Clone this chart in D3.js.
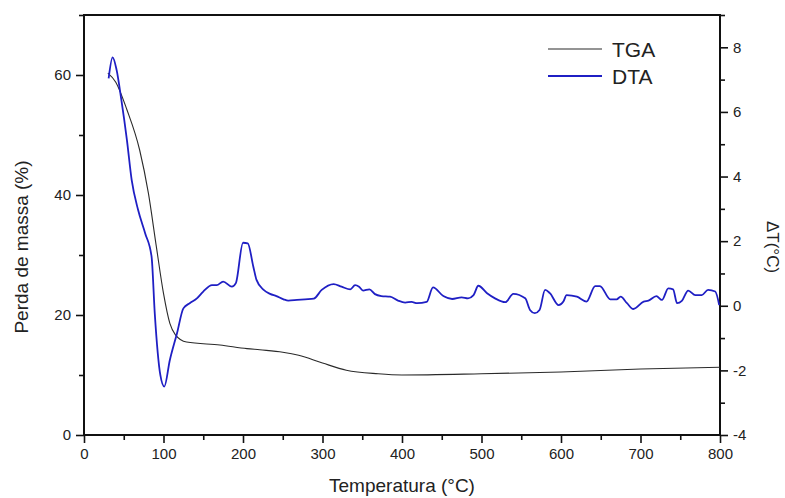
<!DOCTYPE html>
<html>
<head>
<meta charset="utf-8">
<script src="https://cdn.jsdelivr.net/npm/d3@7"></script>
<style>
  body { margin: 0; background: #fff; }
  text { font-family: "Liberation Sans", Arial, sans-serif; fill: #222; }
</style>
</head>
<body>
<div id="chart"></div>
<script>
// TGA: temperature (°C) and mass loss (%)
const tgaTemp = [30, 40, 54, 70, 81, 91, 100, 108, 115, 129, 171, 205, 221, 250, 270, 300, 330, 370, 400, 500, 600, 700, 800];
const tgaMass = [60.3, 58.8, 54.2, 47.5, 40.3, 31.4, 23.6, 18.6, 16.7, 15.5, 15.0, 14.4, 14.2, 13.8, 13.3, 12.0, 10.8, 10.2, 10.0, 10.2, 10.5, 11.0, 11.3];

// DTA: temperature (°C) and ΔT (°C)
const dtaTemp = [31, 36, 41, 47, 54, 60, 68, 77, 85, 89, 96, 101, 108, 117, 125, 133, 142, 150, 161, 167, 175, 186, 191, 200, 206, 213, 217, 226, 234, 242, 251, 257, 268, 278, 289, 299, 314, 324, 335, 341, 346, 351, 359, 366, 374, 385, 395, 404, 412, 419, 431, 439, 452, 463, 475, 483, 490, 496, 507, 517, 530, 540, 555, 561, 567, 573, 580, 586, 597, 603, 607, 620, 632, 643, 649, 662, 670, 675, 683, 691, 704, 710, 720, 727, 735, 741, 746, 752, 760, 769, 777, 785, 794, 799];
const dtaDelta = [7.04, 7.69, 7.30, 6.37, 5.13, 3.89, 2.97, 2.24, 1.52, -0.23, -2.14, -2.50, -1.68, -0.85, -0.08, 0.08, 0.23, 0.44, 0.64, 0.64, 0.75, 0.59, 0.70, 1.95, 1.93, 1.21, 0.80, 0.49, 0.37, 0.30, 0.20, 0.16, 0.18, 0.20, 0.22, 0.49, 0.67, 0.59, 0.51, 0.64, 0.59, 0.47, 0.51, 0.36, 0.30, 0.28, 0.16, 0.10, 0.12, 0.08, 0.12, 0.57, 0.30, 0.21, 0.26, 0.23, 0.33, 0.62, 0.39, 0.23, 0.11, 0.37, 0.23, -0.13, -0.23, -0.13, 0.49, 0.39, 0.02, 0.13, 0.33, 0.28, 0.13, 0.61, 0.61, 0.20, 0.20, 0.28, 0.08, -0.10, 0.13, 0.16, 0.30, 0.18, 0.54, 0.51, 0.08, 0.15, 0.47, 0.33, 0.33, 0.49, 0.44, 0.02];

const seriesNames = ["TGA", "DTA"];
const seriesColors = ["#2a2a2a", "#1f1fc4"];

const xTicks = [0, 100, 200, 300, 400, 500, 600, 700, 800];
const leftTicks = [0, 20, 40, 60];
const rightTicks = [-4, -2, 0, 2, 4, 6, 8];

const W = 785, H = 498;
const margin = { top: 15, right: 65, bottom: 63, left: 84 };
const width = W - margin.left - margin.right,
    height = H - margin.top - margin.bottom;

const svg = d3.select("#chart")
    .append("svg")
    .attr("width", W)
    .attr("height", H);

const g = svg.append("g")
    .attr("transform", `translate(${margin.left}, ${margin.top})`);

const x = d3.scaleLinear().domain([0, 800]).range([0, width]);
const yL = d3.scaleLinear().domain([0, 70]).range([height, 0]);
const yR = d3.scaleLinear().domain([-4, 9]).range([height, 0]);

// plain hyphen for negative labels, like the original
const plain = d => String(d);

// minor ticks first, then major ticks with labels
function styleAxis(sel) {
    sel.select(".domain").remove();
    sel.selectAll("line").attr("stroke", "#111").attr("stroke-width", 1.6);
    sel.selectAll("text").style("font-size", "15px").attr("fill", "#222");
}

g.append("g")
    .attr("transform", `translate(0, ${height})`)
    .call(d3.axisBottom(x).tickValues(d3.range(50, 800, 100)).tickSize(5).tickFormat(""))
    .call(styleAxis);
g.append("g")
    .attr("transform", `translate(0, ${height})`)
    .call(d3.axisBottom(x).tickValues(xTicks).tickSize(8).tickPadding(5).tickFormat(plain))
    .call(styleAxis);

g.append("g")
    .call(d3.axisLeft(yL).tickValues([10, 30, 50, 70]).tickSize(5).tickFormat(""))
    .call(styleAxis);
g.append("g")
    .call(d3.axisLeft(yL).tickValues(leftTicks).tickSize(8).tickPadding(5).tickFormat(plain))
    .call(styleAxis);

g.append("g")
    .attr("transform", `translate(${width}, 0)`)
    .call(d3.axisRight(yR).tickValues([-3, -1, 1, 3, 5, 7, 9]).tickSize(5).tickFormat(""))
    .call(styleAxis);
g.append("g")
    .attr("transform", `translate(${width}, 0)`)
    .call(d3.axisRight(yR).tickValues(rightTicks).tickSize(8).tickPadding(5).tickFormat(plain))
    .call(styleAxis);

// frame: left, bottom, right, top
g.append("rect")
    .attr("x", 0).attr("y", 0)
    .attr("width", width).attr("height", height)
    .attr("fill", "none")
    .attr("stroke", "#111")
    .attr("stroke-width", 2);

// TGA line
const tgaData = tgaTemp.map((t, i) => ({ t: t, v: tgaMass[i] }));
g.append("path")
    .datum(tgaData)
    .attr("fill", "none")
    .attr("stroke", seriesColors[0])
    .attr("stroke-width", 1.1)
    .attr("d", d3.line().x(d => x(d.t)).y(d => yL(d.v)).curve(d3.curveMonotoneX));

// DTA line
const dtaData = dtaTemp.map((t, i) => ({ t: t, v: dtaDelta[i] }));
g.append("path")
    .datum(dtaData)
    .attr("fill", "none")
    .attr("stroke", seriesColors[1])
    .attr("stroke-width", 1.8)
    .attr("stroke-linejoin", "round")
    .attr("d", d3.line().x(d => x(d.t)).y(d => yR(d.v)).curve(d3.curveMonotoneX));

// axis titles
svg.append("text")
    .attr("transform", `translate(28, ${margin.top + height / 2 + 22}) rotate(-90)`)
    .attr("text-anchor", "middle")
    .style("font-size", "19px")
    .text("Perda de massa (%)");

svg.append("text")
    .attr("x", margin.left + width / 2)
    .attr("y", 492)
    .attr("text-anchor", "middle")
    .style("font-size", "19px")
    .text("Temperatura (\u00B0C)");

svg.append("text")
    .attr("transform", "translate(767, 247) rotate(90)")
    .attr("text-anchor", "middle")
    .style("font-size", "17px")
    .text("\u0394T(\u00B0C)");

// legend
const legend = svg.append("g").attr("transform", "translate(548, 49)");
seriesNames.forEach((name, i) => {
    const row = legend.append("g").attr("transform", `translate(0, ${i * 27})`);
    row.append("line")
        .attr("x1", 0).attr("x2", 54)
        .attr("stroke", seriesColors[i])
        .attr("stroke-width", i === 0 ? 1.1 : 1.8);
    row.append("text")
        .attr("x", 64).attr("y", 8)
        .style("font-size", "21px")
        .text(name);
});
</script>
</body>
</html>
